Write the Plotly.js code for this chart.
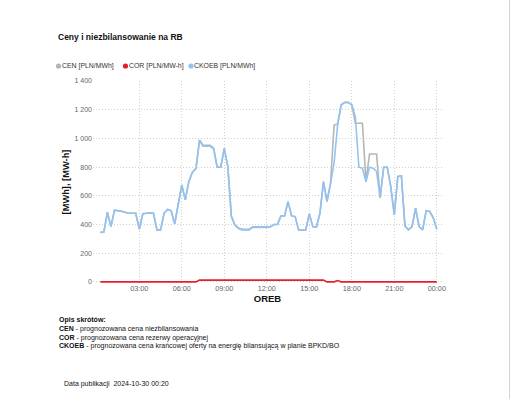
<!DOCTYPE html>
<html>
<head>
<meta charset="utf-8">
<script src="https://cdn.plot.ly/plotly-3.0.1.min.js"></script>
<style>
  html, body { margin: 0; padding: 0; background: #fff; }
  #chart { width: 519px; height: 399px; }
  #edge { position: absolute; left: 509px; top: 0; width: 1px; height: 399px; background: #d4d4d4; }
</style>
</head>
<body>
<div id="chart"></div>
<div id="edge"></div>
<script>
// Quarter-hour timestamps 00:15 .. 24:00 (2024-10-30)
var dayStart = Date.UTC(2024, 9, 30, 0, 0);
function iso(ms) { return new Date(ms).toISOString().slice(0, 16).replace('T', ' '); }
var times = [];
for (var i = 1; i <= 96; i++) times.push(iso(dayStart + i * 15 * 60000));

// CKOEB [PLN/MWh]
var ckoeb = [
  345, 348, 485, 385, 500, 497, 492, 485, 478, 478, 478, 367,
  475, 478, 482, 478, 362, 362, 478, 505, 495, 404, 548, 675,
  571, 700, 765, 790, 985, 945, 945, 945, 925, 800, 800, 930,
  803, 455, 395, 372, 362, 362, 362, 380, 382, 380, 380, 380,
  381, 400, 400, 460, 460, 559, 460, 455, 362, 362, 362, 474,
  385, 381, 478, 698, 559, 687, 830, 1093, 1232, 1249, 1249, 1232,
  1152, 799, 792, 698, 799, 792, 769, 585, 799, 799, 664, 467,
  734, 738, 390, 362, 385, 513, 385, 362, 496, 490, 446, 367
];
// CEN [PLN/MWh]
var cen = [
  345, 348, 485, 385, 500, 497, 492, 485, 478, 478, 478, 367,
  475, 478, 482, 478, 362, 362, 478, 505, 495, 404, 548, 675,
  571, 700, 765, 790, 990, 952, 952, 952, 932, 800, 800, 930,
  803, 458, 398, 376, 366, 366, 366, 384, 386, 384, 384, 384,
  384, 400, 400, 460, 460, 559, 460, 455, 362, 362, 362, 474,
  385, 381, 478, 698, 559, 687, 1093, 1100, 1235, 1252, 1252, 1235,
  1105, 1105, 1105, 698, 891, 891, 891, 585, 799, 799, 664, 467,
  734, 738, 390, 362, 385, 513, 385, 362, 496, 490, 446, 367
];
// COR [PLN/MW-h]
var cor = [
  0, 0, 0, 0, 0, 0, 0, 0, 0, 0, 0, 0,
  0, 0, 0, 0, 0, 0, 0, 0, 0, 0, 0, 0,
  0, 0, 0, 0, 12, 12, 12, 12, 12, 12, 12, 12,
  12, 12, 12, 12, 12, 12, 12, 12, 12, 12, 12, 12,
  12, 12, 12, 12, 12, 12, 12, 12, 12, 12, 12, 12,
  12, 12, 12, 12, 0, 0, 0, 9, 0, 0, 0, 0,
  0, 0, 0, 0, 0, 0, 0, 0, 0, 0, 0, 0,
  0, 0, 0, 0, 0, 0, 0, 0, 0, 0, 0, 0
];

var seriesNames = ['CEN [PLN/MWh]', 'COR [PLN/MW-h]', 'CKOEB [PLN/MWh]'];
var seriesColors = ['#b5b5b5', '#e5202e', '#92c3f3'];

var xTickVals = ['2024-10-30 03:00', '2024-10-30 06:00', '2024-10-30 09:00', '2024-10-30 12:00',
                 '2024-10-30 15:00', '2024-10-30 18:00', '2024-10-30 21:00', '2024-10-31 00:00'];
var xTickText = ['03:00', '06:00', '09:00', '12:00', '15:00', '18:00', '21:00', '00:00'];
var yTickVals = [0, 200, 400, 600, 800, 1000, 1200, 1400];

var title = 'Ceny i niezbilansowanie na RB';
var xTitle = 'OREB';
var yTitle = '[MWh], [MW-h]';
var descHeader = 'Opis skrótów:';
var descLines = [
  ['CEN', ' - prognozowana cena niezbilansowania'],
  ['COR', ' - prognozowana cena rezerwy operacyjnej'],
  ['CKOEB', ' - prognozowana cena krańcowej oferty na energię bilansującą w planie BPKD/BO']
];
var pubLabel = 'Data publikacji  2024-10-30 00:20';

var W = 519, H = 399;
var L = 93, R = 442, T = 81, B = 283;
function px(x) { return (x - L) / (R - L); }
function py(y) { return (B - y) / (B - T); }

var font = 'Liberation Sans, Arial, sans-serif';
var values = [cen, cor, ckoeb];
var traces = values.map(function (v, k) {
  return {
    x: times, y: v, type: 'scatter', mode: 'lines', name: seriesNames[k],
    line: { color: seriesColors[k], width: 1.6 }, showlegend: false, hoverinfo: 'skip'
  };
});

var annotations = [];
var shapes = [];
var legendX = [58.5, 125.5, 191];
legendX.forEach(function (cx, k) {
  shapes.push({
    type: 'circle', xref: 'paper', yref: 'paper', xsizemode: 'pixel', ysizemode: 'pixel',
    xanchor: px(cx), yanchor: py(66), x0: -2.6, x1: 2.6, y0: -2.6, y1: 2.6,
    fillcolor: seriesColors[k], line: { width: 0 }
  });
  annotations.push({
    xref: 'paper', yref: 'paper', x: px(cx + 1.2), y: py(66), xanchor: 'left', yanchor: 'middle',
    text: seriesNames[k], showarrow: false, font: { family: font, size: 6.9, color: '#333' }
  });
});
var descFont = { family: font, size: 7, color: '#111' };
annotations.push({
  xref: 'paper', yref: 'paper', x: px(57), y: py(320), xanchor: 'left', yanchor: 'middle',
  text: '<b>' + descHeader + '</b>', showarrow: false, font: descFont
});
descLines.forEach(function (d, k) {
  annotations.push({
    xref: 'paper', yref: 'paper', x: px(57), y: py(329 + k * 8.5), xanchor: 'left', yanchor: 'middle',
    text: '<b>' + d[0] + '</b>' + d[1], showarrow: false, font: descFont
  });
});
annotations.push({
  xref: 'paper', yref: 'paper', x: px(62), y: py(384), xanchor: 'left', yanchor: 'middle',
  text: pubLabel, showarrow: false, font: { family: font, size: 7, color: '#111' }
});

var layout = {
  width: W, height: H,
  margin: { l: L, r: W - R, t: T, b: H - B, pad: 0 },
  paper_bgcolor: '#fff', plot_bgcolor: '#fff',
  separators: ', ',
  font: { family: font, color: '#333' },
  title: {
    text: '<b>' + title + '</b>', xref: 'container', yref: 'container',
    x: 58 / W, xanchor: 'left', y: 1 - 37 / H, yanchor: 'middle',
    font: { family: font, size: 8.5, color: '#111' }
  },
  showlegend: false,
  xaxis: {
    type: 'date', range: ['2024-10-29 23:44', '2024-10-31 00:22'],
    tickmode: 'array', tickvals: xTickVals, ticktext: xTickText,
    showgrid: true, gridcolor: '#d0d0d0', griddash: '1px,2px', gridwidth: 1,
    zeroline: false, showline: false, ticks: '',
    tickfont: { family: font, size: 7.3, color: '#666' },
    title: { text: '<b>' + xTitle + '</b>', standoff: 2, font: { family: font, size: 9.5, color: '#111' } },
    automargin: false
  },
  yaxis: {
    range: [-8, 1400], tickmode: 'array', tickvals: yTickVals, separatethousands: true,
    showgrid: true, gridcolor: '#d0d0d0', griddash: '1px,2px', gridwidth: 1,
    zeroline: false, showline: false, ticks: '',
    tickfont: { family: font, size: 7, color: '#666' },
    title: { text: '<b>' + yTitle + '</b>', standoff: 3, font: { family: font, size: 9.3, color: '#111' } },
    automargin: false
  },
  annotations: annotations,
  shapes: shapes
};

Plotly.newPlot('chart', traces, layout, { staticPlot: true, displayModeBar: false });
</script>
</body>
</html>
